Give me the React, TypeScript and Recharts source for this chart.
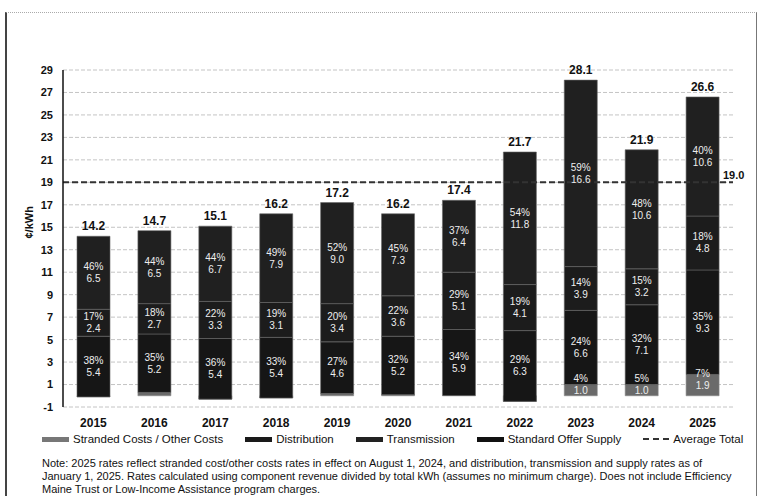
import { ComposedChart, Bar, XAxis, YAxis, CartesianGrid, ReferenceLine, LabelList, Label } from 'recharts'

const years = ['2015', '2016', '2017', '2018', '2019', '2020', '2021', '2022', '2023', '2024', '2025']
const stranded = [-0.1, 0.3, -0.3, -0.2, 0.2, 0.1, 0.0, -0.5, 1.0, 1.0, 1.9]
const distribution = [5.4, 5.2, 5.4, 5.4, 4.6, 5.2, 5.9, 6.3, 6.6, 7.1, 9.3]
const transmission = [2.4, 2.7, 3.3, 3.1, 3.4, 3.6, 5.1, 4.1, 3.9, 3.2, 4.8]
const supply = [6.5, 6.5, 6.7, 7.9, 9.0, 7.3, 6.4, 11.8, 16.6, 10.6, 10.6]
const totals = [14.2, 14.7, 15.1, 16.2, 17.2, 16.2, 17.4, 21.7, 28.1, 21.9, 26.6]

const strandedPct = [null, null, null, null, null, null, null, null, '4%', '5%', '7%']
const distributionPct = ['38%', '35%', '36%', '33%', '27%', '32%', '34%', '29%', '24%', '32%', '35%']
const transmissionPct = ['17%', '18%', '22%', '19%', '20%', '22%', '29%', '19%', '14%', '15%', '18%']
const supplyPct = ['46%', '44%', '44%', '49%', '52%', '45%', '37%', '54%', '59%', '48%', '40%']

const averageTotal = 19.0
const yTicks = [-1, 1, 3, 5, 7, 9, 11, 13, 15, 17, 19, 21, 23, 25, 27, 29]

const noteLines = [
  'Note: 2025 rates reflect stranded cost/other costs rates in effect on August 1, 2024, and distribution, transmission and supply rates as of',
  'January 1, 2025. Rates calculated using component revenue divided by total kWh (assumes no minimum charge). Does not include Efficiency',
  'Maine Trust or Low-Income Assistance program charges.',
]

const lbl = (pct: string | null, v: number) => (pct ? `${pct}|${v.toFixed(1)}` : '')

const data = years.map((year, i) => ({
  year,
  stranded: stranded[i],
  distribution: distribution[i],
  transmission: transmission[i],
  supply: supply[i],
  total: totals[i].toFixed(1),
  strandedLbl: lbl(strandedPct[i], stranded[i]),
  distributionLbl: lbl(distributionPct[i], distribution[i]),
  transmissionLbl: lbl(transmissionPct[i], transmission[i]),
  supplyLbl: lbl(supplyPct[i], supply[i]),
}))

const FONT = '"Liberation Sans", Arial, sans-serif'

const segmentLabel = (shift: number) => (props: any) => {
  const { x, y, width, height, value } = props
  if (!value) return null
  const [pct, val] = String(value).split('|')
  const cx = Number(x) + Number(width) / 2
  const cy = Number(y) + Number(height) / 2 + shift
  return (
    <g fontFamily={FONT} fontSize={10} fill="#eeeeee" textAnchor="middle">
      <text x={cx} y={cy - 6} dominantBaseline="central">{pct}</text>
      <text x={cx} y={cy + 6} dominantBaseline="central">{val}</text>
    </g>
  )
}

const avgLabel = (props: any) => {
  const vb = props.viewBox
  return (
    <text x={vb.x + vb.width - 10} y={vb.y - 7} fontFamily={FONT} fontSize={11} fontWeight="bold" fill="#111" dominantBaseline="central">
      {averageTotal.toFixed(1)}
    </text>
  )
}

const legendItems = [
  { name: 'Stranded Costs / Other Costs', color: '#777' },
  { name: 'Distribution', color: '#1a1a1a' },
  { name: 'Transmission', color: '#222' },
  { name: 'Standard Offer Supply', color: '#111' },
]

export default function App() {
  return (
    <div style={{ position: 'relative', width: 757, height: 496, background: '#fff', overflow: 'hidden', fontFamily: FONT }}>
      <style>{'body{margin:0}'}</style>
      <div style={{ position: 'absolute', left: 5, top: 12, width: 749, height: 490, borderLeft: '2px solid #444', borderRight: '1px solid #777', borderTop: '1px dotted #aaa' }} />
      <div style={{ position: 'absolute', left: 0, top: 0 }}>
        <ComposedChart width={757} height={430} data={data} margin={{ top: 70, right: 24, bottom: 0, left: 0 }} barSize={33}>
          <CartesianGrid vertical={false} stroke="#c4c4c4" strokeDasharray="4 2" />
          <XAxis
            dataKey="year"
            axisLine={false}
            tickLine={false}
            tickMargin={5}
            height={23}
            tick={{ fontSize: 12, fontWeight: 'bold', fill: '#111', fontFamily: FONT }}
          />
          <YAxis
            width={63}
            domain={[-1, 29]}
            ticks={yTicks}
            interval={0}
            tickLine={false}
            axisLine={{ stroke: '#111', strokeWidth: 1.5 }}
            tickMargin={4}
            tick={{ fontSize: 11, fontWeight: 'bold', fill: '#111', fontFamily: FONT }}
          >
            <Label value="¢/kWh" angle={-90} position="insideLeft" offset={29} style={{ fontSize: 11, fontWeight: 'bold', fill: '#111', fontFamily: FONT }} />
          </YAxis>
          <ReferenceLine y={averageTotal} stroke="#333" strokeWidth={2} strokeDasharray="6 3" label={avgLabel} />
          <Bar dataKey="stranded" stackId="a" fill="#6a6a6a" stroke="#888" strokeWidth={0.6} isAnimationActive={false}>
            <LabelList dataKey="strandedLbl" content={segmentLabel(-6)} />
          </Bar>
          <Bar dataKey="distribution" stackId="a" fill="#161616" stroke="#666" strokeWidth={0.6} isAnimationActive={false}>
            <LabelList dataKey="distributionLbl" content={segmentLabel(0)} />
          </Bar>
          <Bar dataKey="transmission" stackId="a" fill="#1c1c1c" stroke="#666" strokeWidth={0.6} isAnimationActive={false}>
            <LabelList dataKey="transmissionLbl" content={segmentLabel(0)} />
          </Bar>
          <Bar dataKey="supply" stackId="a" fill="#202020" stroke="#666" strokeWidth={0.6} isAnimationActive={false}>
            <LabelList dataKey="supplyLbl" content={segmentLabel(0)} />
            <LabelList dataKey="total" position="top" offset={6} style={{ fontSize: 12, fontWeight: 'bold', fill: '#111', fontFamily: FONT }} />
          </Bar>
        </ComposedChart>
      </div>
      <div style={{ position: 'absolute', left: 42, top: 433, display: 'flex', alignItems: 'center', fontSize: 11.5, color: '#111', whiteSpace: 'nowrap' }}>
        {legendItems.map((it) => (
          <div key={it.name} style={{ display: 'flex', alignItems: 'center', marginRight: 22 }}>
            <span style={{ display: 'inline-block', width: 27, height: 5, background: it.color, marginRight: 4 }} />
            <span>{it.name}</span>
          </div>
        ))}
        <div style={{ display: 'flex', alignItems: 'center' }}>
          <span style={{ display: 'inline-block', width: 26, borderTop: '2px dashed #333', marginRight: 4 }} />
          <span>Average Total</span>
        </div>
      </div>
      <div style={{ position: 'absolute', left: 42, top: 457, fontSize: 11, lineHeight: '13px', color: '#111', whiteSpace: 'nowrap' }}>
        {noteLines.map((t) => (
          <div key={t}>{t}</div>
        ))}
      </div>
    </div>
  )
}
